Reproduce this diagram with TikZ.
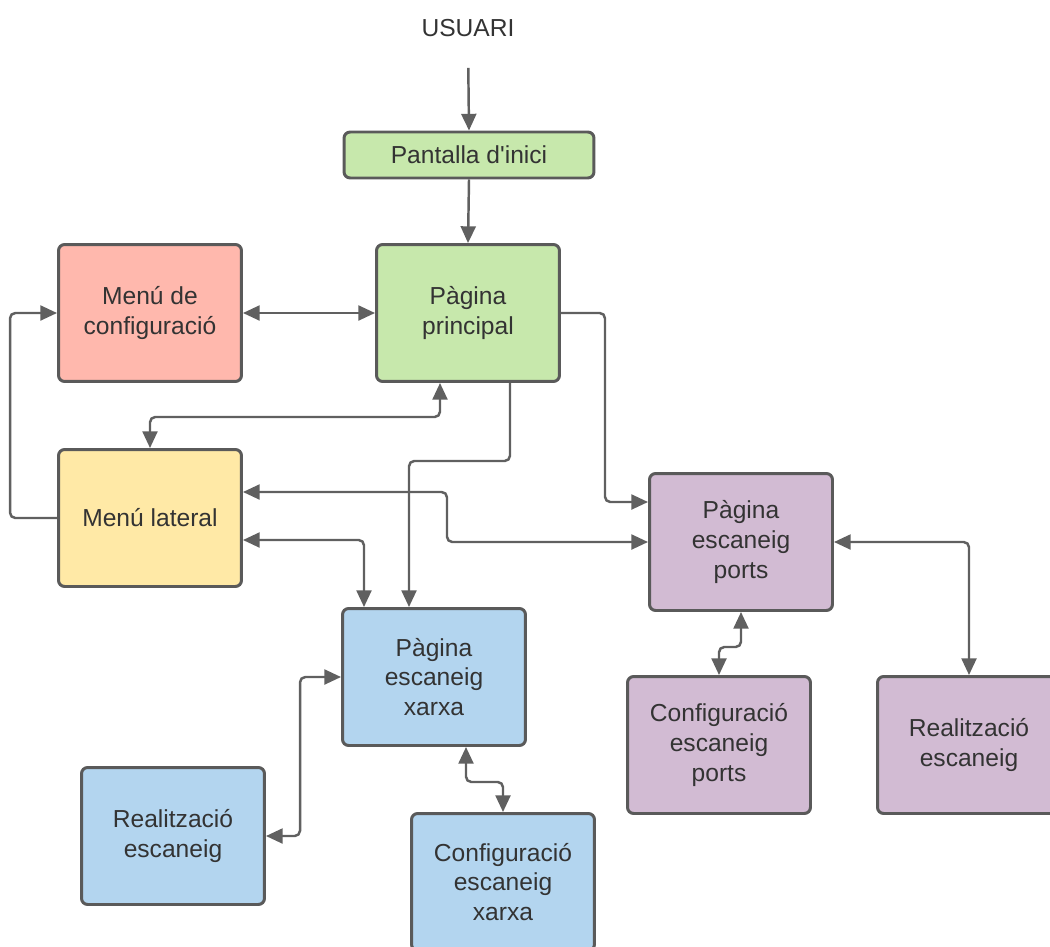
\documentclass[tikz,border=0pt]{standalone}
\usepackage{fontspec}
\setmainfont{Liberation Sans}
\usetikzlibrary{arrows.meta,calc}

\definecolor{boxline}{HTML}{5A5A5A}
\definecolor{linkgray}{HTML}{606060}
\definecolor{txtgray}{HTML}{333333}
\definecolor{fillgreen}{HTML}{C7E8AC}
\definecolor{fillred}{HTML}{FFB8AD}
\definecolor{fillyellow}{HTML}{FFE9A6}
\definecolor{fillpurple}{HTML}{D2BBD3}
\definecolor{fillblue}{HTML}{B3D5EF}

\tikzset{
    screen/.style={draw=boxline, line width=1.7pt, rounded corners=3.5pt,
        minimum width=3.66cm, minimum height=2.74cm, align=center,
        text=txtgray, font=\fontsize{14}{17}\selectfont},
    link/.style={draw=linkgray, line width=1.4pt, rounded corners=3pt,
        -{Triangle[length=9.5pt,width=8.5pt]}},
    link2/.style={link, {Triangle[length=9.5pt,width=8.5pt]}-{Triangle[length=9.5pt,width=8.5pt]}}
}

\begin{document}
\begin{tikzpicture}[x=0.02cm, y=-0.02cm]
    \useasboundingbox (0,0) rectangle (1050,946);
    \clip (0,0) rectangle (1050,946);

    % --- screens ---
    \node[text=txtgray, font=\fontsize{14}{17}\selectfont] (usr) at (468,28) {USUARI};
    \node[screen, fill=fillgreen, minimum width=5cm, minimum height=0.92cm] (ini) at (469,155) {Pantalla d\textquotesingle inici};
    \node[screen, fill=fillgreen] (pp) at (468,313) {Pàgina\\principal};
    \node[screen, fill=fillred] (cfg) at (150,313) {Menú de\\configuració};
    \node[screen, fill=fillyellow] (lat) at (150,518) {Menú lateral};
    \node[screen, fill=fillpurple] (ports) at (741,542) {Pàgina\\escaneig\\ports};
    \node[screen, fill=fillblue] (xarxa) at (434,677) {Pàgina\\escaneig\\xarxa};
    \node[screen, fill=fillpurple] (cfgports) at (719,745) {Configuració\\escaneig\\ports};
    \node[screen, fill=fillpurple] (realports) at (969,745) {Realització\\escaneig};
    \node[screen, fill=fillblue] (realxarxa) at (173,836) {Realització\\escaneig};
    \node[screen, fill=fillblue] (cfgxarxa) at (503,882) {Configuració\\escaneig\\xarxa};

    % --- links ---
    \draw[link, shorten <=0.5cm] (usr.south) -- (ini.north);
    \draw[link] (ini.south) -- (pp.north);
    \draw[link2] (cfg.east) -- (pp.west);
    \draw[link] (lat.west) -- ++(-47,0) |- (cfg.west);
    \draw[link2] ($(pp.south)+(-28,0)$) -- ++(0,34) -| (lat.north);
    \draw[link] ($(pp.south)+(42,0)$) -- ++(0,78) -| ($(xarxa.north)+(-25,0)$);
    \draw[link] (pp.east) -- ++(44,0) |- ($(ports.west)+(0,-40)$);
    \draw[link2] ($(lat.east)+(0,-26)$) -- ++(204,0) |- (ports.west);
    \draw[link2] ($(lat.east)+(0,22)$) -| ($(xarxa.north)+(-70,0)$);
    \draw[link2] (xarxa.west) -- ++(-41,0) |- (realxarxa.east);
    \draw[link2] ($(xarxa.south)+(32,0)$) -- ++(0,35) -| (cfgxarxa.north);
    \draw[link2] (ports.east) -| (realports.north);
    \draw[link2] (ports.south) -- ++(0,35) -| (cfgports.north);
\end{tikzpicture}
\end{document}
